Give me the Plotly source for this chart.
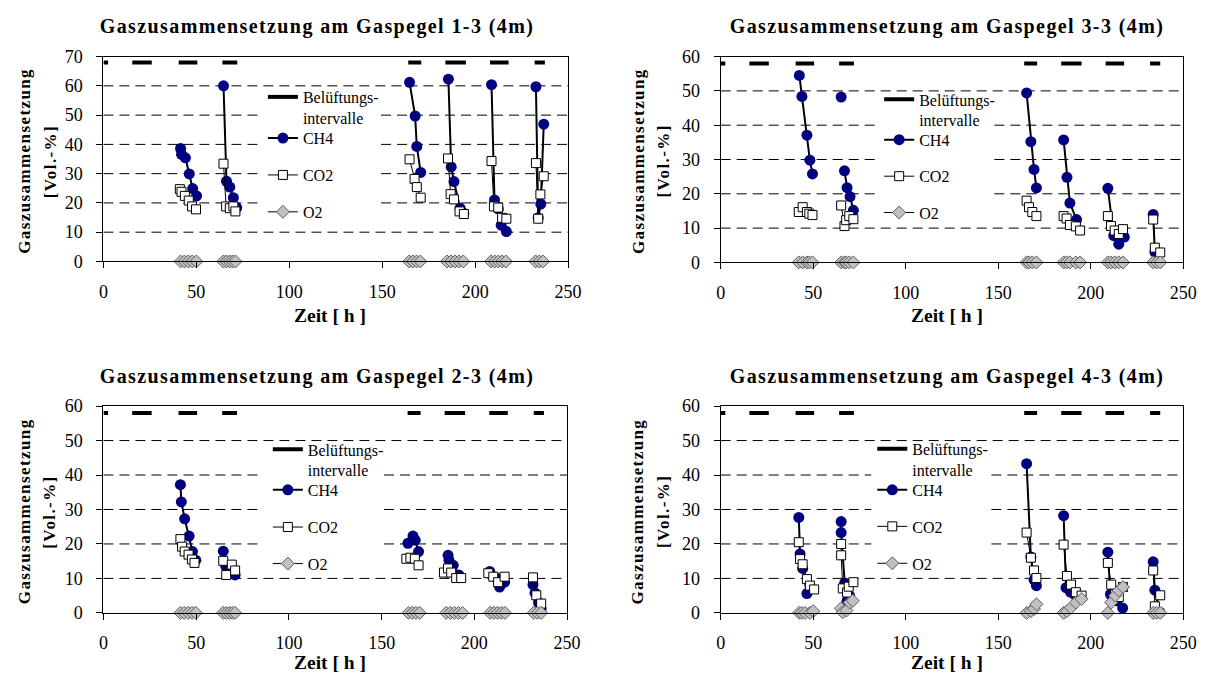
import plotly.graph_objects as go

W, H = 1220, 685
FONT = "Liberation Serif"

# ---------------- data ----------------
panels = ["1-3", "3-3", "2-3", "4-3"]
y_ticks_70 = [0, 10, 20, 30, 40, 50, 60, 70]
y_ticks_60 = [0, 10, 20, 30, 40, 50, 60]
y_ticks = [y_ticks_70, y_ticks_60, y_ticks_60, y_ticks_60]
vent_level = [68, 58, 58, 58]
vent_start = [0, 15.5, 40.5, 64, 164, 184, 208, 232]
vent_end = [2.5, 26, 50.5, 72, 171, 195, 218, 237.5]
x_ticks = [0, 50, 100, 150, 200, 250]

# Gaspegel 1-3
t_ch4_13 = [[41.5, 42, 44.1, 46.2, 48, 50.1], [64.6, 66.2, 68, 69.9, 71.7], [164.7, 167.7, 168.6, 170.7],
            [185.6, 187.1, 188.6, 191.9, 193.9], [208.8, 210.4, 212.4, 214, 216.8], [232.7, 233.9, 235.3, 236.9]]
ch4_13 = [[38.6, 36.6, 35.4, 29.9, 24.9, 22.4], [60, 27.4, 25.4, 21.8, 18.4], [61.2, 49.7, 39.3, 30.4],
          [62.3, 32.3, 27.3, 18.2, 16.5], [60.4, 21, 18, 12.4, 10.2], [59.7, 14.9, 19.6, 46.9]]
t_co2_13 = [[41.1, 42, 43.8, 45.9, 47.7, 49.8], [64.6, 66, 68, 69.9, 71], [164.7, 167.4, 168.6, 170.7],
            [185.4, 186.8, 188.6, 191.6, 193.9], [208.8, 210.1, 212.4, 214.5, 216.8], [232.7, 233.9, 235.1, 236.9]]
co2_13 = [[24.7, 23.8, 22.4, 20.8, 18.8, 17.8], [33.4, 18.8, 18.2, 18.8, 17.1], [34.9, 28.2, 25.4, 21.8],
          [35.2, 23, 21.2, 17.1, 16.2], [34.3, 18.8, 18.4, 14.9, 14.6], [33.6, 14.6, 22.9, 29.1]]
t_o2_13 = [[41.5, 43.6, 45.7, 47.8, 50], [64.5, 66.2, 67.9, 69.5, 71], [164.5, 166.5, 168.5, 170.5],
           [184.8, 187, 189.2, 191.4, 193.6], [208.5, 210.5, 212.5, 214.5, 216.5], [232.5, 234.5, 236.5]]
o2_13 = [[0, 0, 0, 0, 0], [0, 0, 0, 0, 0], [0, 0, 0, 0], [0, 0, 0, 0, 0], [0, 0, 0, 0, 0], [0, 0, 0]]

# Gaspegel 3-3
t_ch4_33 = [[42.5, 43.9, 46.6, 48.2, 49.6], [65.1], [66.9, 68.3, 69.9, 71.7], [165.3, 167.6, 169.3, 170.6],
            [185.3, 187.1, 188.7, 192.3], [209.2, 212.4, 215.1, 218.1], [233.7, 234.6, 235.4]]
ch4_33 = [[54.5, 48.4, 37.1, 29.8, 25.8], [48.2], [26.7, 21.8, 19.2, 15.2], [49.4, 35.2, 27.1, 21.7],
          [35.7, 24.8, 17.3, 12.5], [21.6, 7.8, 5.3, 7.4], [14, 3, 0.8]]
t_co2_33 = [[42.2, 44.3, 46.6, 47.9, 49.6], [65.1, 66.9, 67.8, 69.5, 71.7], [165.3, 166.6, 168.4, 170.6],
            [185.3, 186.9, 188.7, 191.9, 194.2], [209.2, 210.9, 212.9, 215.1, 217.4], [233.7, 234.6, 237.5]]
co2_33 = [[14.7, 16.1, 14.7, 14.2, 13.8], [16.6, 10.6, 12.3, 13.5, 12.6], [18, 16.1, 14.7, 13.5],
          [13.5, 12.8, 10.9, 10.5, 9.3], [13.5, 10.6, 9.3, 8.3, 9.7], [12.5, 4.3, 2.9]]
t_o2_33 = [[42.2, 44.3, 46.6, 47.9, 49.6], [65.1, 66.9, 67.8, 69.5, 71.7], [165.3, 166.6, 168.4, 170.6],
           [185.3, 186.9, 188.7, 191.9, 194.2], [209.2, 210.9, 212.9, 215.1, 217.4], [233.7, 235.6, 237.5]]
o2_33 = [[0, 0, 0, 0, 0], [0, 0, 0, 0, 0], [0, 0, 0, 0], [0, 0, 0, 0, 0], [0, 0, 0, 0, 0], [0, 0, 0]]

# Gaspegel 2-3
t_ch4_23 = [[41.5, 42, 43.8, 46.2, 48, 49.8], [64.6, 65.9, 68.9, 71], [164.2, 166.9, 168.1, 169.9],
            [185.8, 186.3, 188.6, 191.6], [208.3, 211.9, 213.6, 216.3], [231.6, 232.7, 234.6, 236]]
ch4_23 = [[37.2, 32.2, 27.3, 22.3, 17.8, 15.3], [17.9, 13.6, 12, 11], [20.2, 22.3, 21.1, 17.8],
          [16.7, 15.3, 13.8, 11], [12, 10.1, 7.5, 8.9], [8.2, 5.8, 3, 1.1]]
t_co2_23 = [[41.5, 42.4, 43.8, 45.9, 47.7, 49.1], [64.6, 66.2, 69.2, 71], [163.3, 165.5, 167.9, 169.9],
            [183.6, 185.8, 187.5, 190.2, 192.9], [207.5, 210.2, 212.8, 216.3], [231.6, 233.4, 236]]
co2_23 = [[21.4, 19.2, 17.8, 16.9, 15.5, 14.5], [15.1, 11, 14, 12.3], [15.7, 16, 15.7, 13.8],
          [11.7, 12.9, 11.7, 10.1, 10.1], [11.5, 10.5, 8.9, 10.5], [10.3, 5.1, 2.7]]
t_o2_23 = [[41.5, 43.6, 45.7, 47.8, 49.8], [64.5, 66.2, 67.9, 69.5, 71], [164.5, 166.5, 168.5, 170.5],
           [184.8, 187, 189.2, 191.4, 193.6], [208.5, 210.5, 212.5, 214.5, 216.5], [232, 234, 236]]
o2_23 = [[0, 0, 0, 0, 0], [0, 0, 0, 0, 0], [0, 0, 0, 0], [0, 0, 0, 0, 0], [0, 0, 0, 0, 0], [0, 0, 0]]

# Gaspegel 4-3
t_ch4_43 = [[42.2, 42.9, 44.3, 46.6], [65.1, 65.1, 67, 68.3, 69.7], [165.3, 167.6, 169.3, 170.6],
            [185.3, 186.6, 189, 191.9], [209.2, 210.6, 214, 217.2], [233.7, 234.6, 237.3]]
ch4_43 = [[27.7, 17.1, 12.9, 5.6], [26.5, 23.3, 8.7, 3.5, 4.9], [43.3, 16.2, 9.6, 7.9],
          [28.2, 7.3, 6, 4.9], [17.6, 5.4, 3.5, 1.4], [14.8, 6.6, 0.2]]
t_co2_43 = [[42.2, 42.9, 44.3, 46.6, 48.2, 50.5], [65.1, 65.1, 66, 68.3, 69.2, 71.7], [165.3, 167.6, 169.3, 170.6],
            [185.3, 187.1, 189.3, 191.9, 195], [209.2, 211, 213.2, 215.1, 217.4], [233.7, 234.6, 237.5]]
co2_43 = [[20.5, 15.6, 14.1, 9.8, 7.9, 6.8], [20, 16.7, 7.1, 5.9, 7.6, 8.9], [23.3, 16, 12.3, 10.1],
          [19.8, 10.7, 8.2, 6, 5], [14.5, 8.2, 5.4, 4.6, 7.5], [12.3, 1.9, 5.1]]
t_o2_43 = [[42.4, 43.8, 45.6, 48.2, 50], [65, 66, 68, 69.7, 71.4], [165.3, 167.6, 169.3, 170.6],
           [185.3, 187.1, 189.3, 191.9, 195], [209.2, 211, 213.2, 215.1, 217.4], [233.7, 235.5, 237.5]]
o2_43 = [[0, 0, 0, 0, 0.5], [1.3, 0.2, 0.7, 3, 3.5], [0, 0.5, 1.1, 2.5],
         [0, 0.5, 1.5, 3, 4], [0, 3, 5, 6.5, 7.5], [0, 0, 0]]

series = [
    (t_ch4_13, ch4_13, t_co2_13, co2_13, t_o2_13, o2_13),
    (t_ch4_33, ch4_33, t_co2_33, co2_33, t_o2_33, o2_33),
    (t_ch4_23, ch4_23, t_co2_23, co2_23, t_o2_23, o2_23),
    (t_ch4_43, ch4_43, t_co2_43, co2_43, t_o2_43, o2_43),
]


def join(groups):
    out = []
    for i, g in enumerate(groups):
        if i:
            out.append(None)
        out.extend(g)
    return out


# ---------------- layout geometry (pixels) ----------------
plot_px = [  # left, right, top, bottom
    (100, 572, 48, 259),
    (727, 1197, 48, 260),
    (100, 571, 408, 621),
    (727, 1197, 408, 621),
]
legend_x = [262, 888, 267, 881]
legend_sy = [(90, 132, 170, 208), (92.5, 133.7, 171.3, 208.7),
             (453, 494.3, 532.7, 570.3), (452.5, 494.3, 532, 570)]
# area kept free of grid lines around the legend (x0, x1, y0, y1)
legend_box = [(258, 382, 84, 217), (888, 1005, 88, 220),
              (262, 385, 447, 580), (880, 1002, 447, 580)]
title_cx = [317, 957, 317, 957]
title_cy = [17.5, 17.5, 377.5, 377.5]
ytitle_x = [(20, 46), (643, 669), (20, 46), (643, 669)]
ytitle_cy = [155, 155, 516, 516]
xtitle_cy = [315, 315, 672, 672]

LEG_FONT = 16
LINE_H = LEG_FONT * 1.3
GRID_DASH = "10px,6px"

fig = go.Figure()
annotations = []
shapes = []
layout = {}
leg_n = 0


def next_legend():
    global leg_n
    leg_n += 1
    return "legend" if leg_n == 1 else "legend%d" % leg_n


for k in range(4):
    sfx = "" if k == 0 else str(k + 1)
    xa, ya = "x" + sfx, "y" + sfx
    tch4, vch4, tco2, vco2, to2, vo2 = series[k]
    lvl = vent_level[k]
    lx = legend_x[k]
    sy = legend_sy[k]
    yt = y_ticks[k]

    specs = [
        dict(x=join([[s, e] for s, e in zip(vent_start, vent_end)]),
             y=join([[lvl, lvl] for _ in vent_start]),
             mode="lines", line=dict(color="black", width=4),
             name="Belüftungs-<br>intervalle", hoverinfo="skip"),
        dict(x=join(tch4), y=join(vch4), mode="lines+markers",
             line=dict(color="black", width=2),
             marker=dict(symbol="circle", size=11, color="#000080", line=dict(width=0)),
             name="CH4"),
        dict(x=join(tco2), y=join(vco2), mode="lines+markers",
             line=dict(color="black", width=1),
             marker=dict(symbol="square", size=9, color="white", line=dict(color="black", width=1)),
             name="CO2"),
        dict(x=join(to2), y=join(vo2), mode="lines+markers",
             line=dict(color="black", width=1),
             marker=dict(symbol="diamond", size=10, color="#C0C0C0", line=dict(color="#606060", width=1)),
             name="O2"),
    ]
    for j, sp in enumerate(specs):
        leg = next_legend()
        fig.add_trace(go.Scatter(xaxis=xa, yaxis=ya, legend=leg, cliponaxis=False, **sp))
        ycen = sy[j] + (LINE_H / 2 if j == 0 else 0)
        layout[leg] = dict(
            x=lx / W, y=1 - ycen / H, xanchor="left", yanchor="middle",
            bgcolor="rgba(0,0,0,0)", borderwidth=0,
            font=dict(family=FONT, size=LEG_FONT, color="black"),
            valign="top", itemwidth=30)

    l, r, t, b = plot_px[k]
    layout["xaxis" + sfx] = dict(
        domain=[l / W, r / W], anchor=ya, range=[0, 250], tickvals=x_ticks,
        showline=True, linecolor="black", linewidth=1, mirror=True,
        ticks="outside", ticklen=6, tickcolor="black", showgrid=False, zeroline=False,
        tickfont=dict(family=FONT, size=18, color="black"), ticklabelstandoff=8)
    layout["yaxis" + sfx] = dict(
        domain=[1 - b / H, 1 - t / H], anchor=xa, range=[yt[0], yt[-1]], tickvals=yt,
        showline=True, linecolor="black", linewidth=1, mirror=True,
        ticks="outside", ticklen=6, tickcolor="black", zeroline=False, showgrid=False,
        tickfont=dict(family=FONT, size=18, color="black"), ticklabelstandoff=10)

    # dashed horizontal grid lines, left open where the legend sits
    bx0, bx1, by0, by1 = legend_box[k]
    fx0, fx1 = (bx0 - l) / (r - l), (bx1 - l) / (r - l)
    for v in yt[1:-1]:
        py = b - (v - yt[0]) / (yt[-1] - yt[0]) * (b - t)
        segs = [(0, fx0), (fx1, 1)] if by0 <= py <= by1 else [(0, 1)]
        for s0, s1 in segs:
            shapes.append(dict(
                type="line", xref=xa + " domain", yref=ya, x0=s0, x1=s1, y0=v, y1=v,
                layer="below", line=dict(color="black", width=1, dash=GRID_DASH)))

    annotations.append(dict(
        text="Gaszusammensetzung am Gaspegel " + panels[k] + " (4m)",
        x=title_cx[k] / W, y=1 - title_cy[k] / H, xref="paper", yref="paper", showarrow=False,
        xanchor="center", yanchor="middle",
        font=dict(family=FONT, size=20, color="black", weight="bold")))
    annotations.append(dict(
        text="Zeit [ h ]", x=(l + 230) / W, y=1 - xtitle_cy[k] / H, xref="paper", yref="paper",
        showarrow=False, xanchor="center", yanchor="middle",
        font=dict(family=FONT, size=19.5, color="black", weight="bold")))
    annotations.append(dict(
        text="Gaszusammensetzung", x=ytitle_x[k][0] / W, y=1 - ytitle_cy[k] / H,
        xref="paper", yref="paper", showarrow=False, textangle=-90,
        xanchor="center", yanchor="middle",
        font=dict(family=FONT, size=17, color="black", weight="bold")))
    annotations.append(dict(
        text="[Vol.-%]", x=ytitle_x[k][1] / W, y=1 - (ytitle_cy[k] + 1) / H,
        xref="paper", yref="paper", showarrow=False, textangle=-90,
        xanchor="center", yanchor="middle",
        font=dict(family=FONT, size=17, color="black", weight="bold")))

fig.update_layout(
    width=W, height=H, autosize=False, margin=dict(l=0, r=0, t=0, b=0),
    paper_bgcolor="white", plot_bgcolor="white", showlegend=True,
    annotations=annotations, shapes=shapes, **layout)

# the titles of the original are set with a slightly widened letter spacing
spacing_js = """
var gd = document.getElementById('{plot_id}');
gd.querySelectorAll('.annotation-text').forEach(function (el) {
  var s = el.textContent;
  if (s.indexOf('Gaspegel') >= 0 || s === 'Gaszusammensetzung' || s === '[Vol.-%]') {
    el.style.letterSpacing = '1.4px';
  }
});
"""

fig.write_html("out.html", post_script=spacing_js)
